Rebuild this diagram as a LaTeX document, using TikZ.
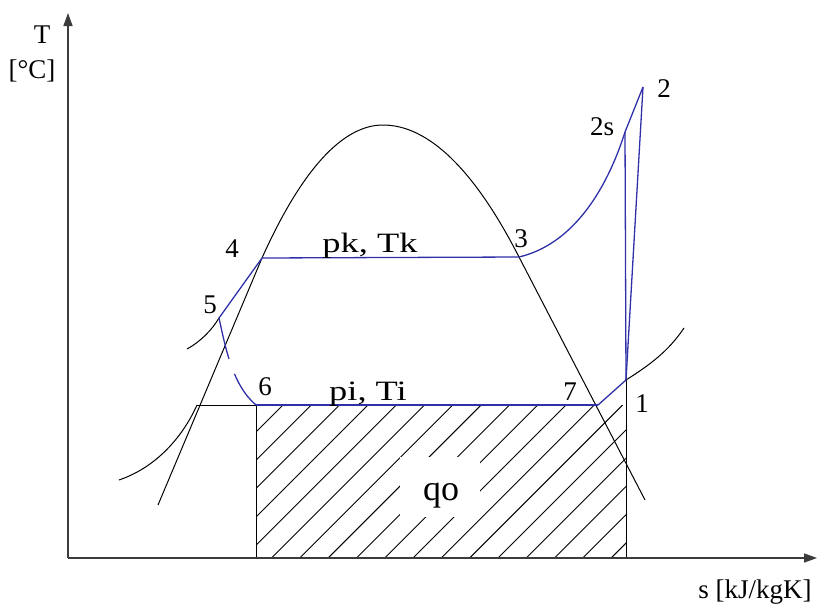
\documentclass[tikz,border=0pt]{standalone}
\usepackage{fontspec}
\setmainfont{Liberation Serif}
\usetikzlibrary{arrows.meta}
\definecolor{cycblue}{RGB}{48,48,168}
\definecolor{axisgray}{RGB}{60,60,60}
\begin{document}
\begin{tikzpicture}[x=1pt,y=-1pt,
  font=\fontsize{27}{30}\selectfont,
  cyc/.style={draw=cycblue,line width=1.3pt},
  curve/.style={draw=black,line width=1pt},
  axisline/.style={draw=axisgray,line width=1.4pt,-{Triangle[length=13pt,width=9pt]}},
  hatchline/.style={draw=black,line width=0.9pt},
  lbl/.style={inner sep=0pt,anchor=base},
  wide/.style={lbl,font=\fontsize{28}{30}\selectfont,xscale=1.3}]
\useasboundingbox (0,0) rectangle (822,606);
% points
\coordinate (p1) at (626,380);
\coordinate (p2) at (643,87);
\coordinate (p2s) at (625,132);
\coordinate (p3) at (519,257);
\coordinate (p4) at (262,258);
\coordinate (p5) at (219,318);
\coordinate (p6) at (256,405);
\coordinate (p7) at (598,405);
\coordinate (a) at (197,405);
\coordinate (b6) at (256,558);
\coordinate (b1) at (626,558);
\coordinate (O) at (68,558);
\coordinate (Ytop) at (68,13);
\coordinate (Xend) at (817,558);
% hatch
\begin{scope}
\clip (p6) rectangle (b1);
\foreach \k in {-1,...,18} {
  \draw[hatchline] ({283+28.3*\k-153},558) -- ++(153,-153);
}
\end{scope}
\node[fill=white,minimum width=80pt,minimum height=60pt,inner sep=0pt] (qobox) at (440,487) {};
\node[lbl,font=\fontsize{36}{40}\selectfont] (qo) at (441,500) {qo};
% dome
\draw[curve] (158,505) -- (p4) .. controls (302,169) and (343,125) .. (383,125)
  .. controls (428,125) and (474,169) .. (p3) -- (645,500);
% isobars (black)
\draw[curve] (119,480) .. controls (160,466) and (185,432) .. (a);
\draw[curve] (a) -- (p6);
\draw[curve] (187,349) .. controls (200,342) and (212,330) .. (p5);
\draw[curve] (p1) .. controls (648,366) and (668,352) .. (684,328);
\draw[curve] (p6) -- (b6);
\draw[curve] (p1) -- (b1);
% cycle (blue)
\draw[cyc] (p4) -- (p3);
\draw[cyc] (p3) .. controls (570,245) and (605,195) .. (p2s) -- (p2);
\draw[cyc] (p2s) -- (p1);
\draw[cyc] (p1) -- (p2);
\draw[cyc] (p7) -- (p1);
\draw[cyc] (p6) -- (p7);
\draw[cyc] (p4) -- (p5);
\draw[cyc,dash pattern=on 42pt off 16pt] (p5) .. controls (225,345) and (232,385) .. (p6);
% axes
\draw[axisline] (O) -- (Ytop);
\draw[axisline] (O) -- (Xend);
% labels
\node[lbl] (lT) at (42,43) {T};
\node[lbl] (lC) at (32,78) {[°C]};
\node[lbl] (ls) at (755,598) {s [kJ/kgK]};
\node[lbl] (l4) at (232,257) {4};
\node[wide] (lpk) at (370,252) {pk, Tk};
\node[lbl] (l3) at (521,247) {3};
\node[lbl] (l2s) at (602,135) {2s};
\node[lbl] (l2) at (664,97) {2};
\node[lbl] (l5) at (210,313) {5};
\node[lbl] (l6) at (265,395) {6};
\node[wide] (lpi) at (368,400) {pi, Ti};
\node[lbl] (l7) at (570,400) {7};
\node[lbl] (l1) at (642,412) {1};
\end{tikzpicture}
\end{document}
